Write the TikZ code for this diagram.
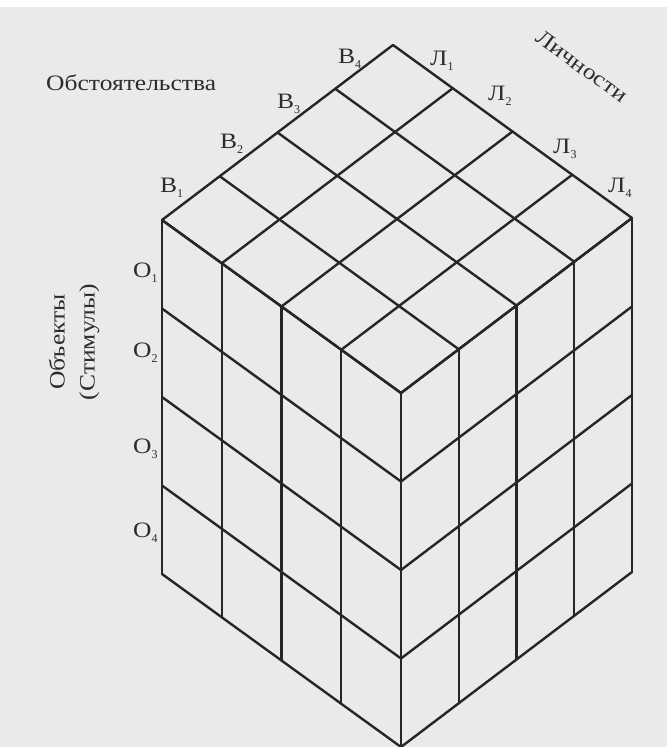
\documentclass[tikz,border=0pt]{standalone}
\usepackage{graphicx}
\usepackage{fontspec}
\setmainfont{Liberation Serif}
\usetikzlibrary{calc}
\definecolor{paper}{HTML}{EAEAE8}
\definecolor{ink}{HTML}{262626}
\definecolor{lbl}{HTML}{2C2C2C}
\tikzset{
  % cube grid lines
  grid/.style={draw=ink, line width=2.4pt, line cap=round, line join=round},
  % small axis labels, placed by the left end of their baseline
  lab/.style={text=lbl, inner sep=0pt, anchor=base west,
    font=\fontsize{22}{22}\selectfont},
  % axis titles
  axis/.style={text=lbl, inner sep=0pt, align=center,
    font=\fontsize{22}{30}\selectfont},
}
\newcommand{\wide}[1]{\scalebox{1.16}[1]{#1}}
\newcommand{\idx}[2]{\wide{#1}\raisebox{-5pt}{\fontsize{12}{12}\selectfont #2}}

\begin{document}
\begin{tikzpicture}[x=1pt, y=-1pt]

% =====================================================================
% PAPER
% =====================================================================
\fill[paper] (0,0) rectangle (667,747);
\fill[white] (0,0) rectangle (667,7);
\useasboundingbox (0,0) rectangle (667,747);

% =====================================================================
% CUBE  (front top corner F, edge vectors a = left, b = right, h = down)
% =====================================================================
\coordinate (F) at (401,393);
\coordinate (a) at (-239,-173);
\coordinate (b) at (231,-175);
\coordinate (h) at (0,354);

\foreach \k in {0,...,4} {
  % top face
  \draw[grid] ($(F)+\k/4*(b)$) -- ($(F)+\k/4*(b)+(a)$);
  \draw[grid] ($(F)+\k/4*(a)$) -- ($(F)+\k/4*(a)+(b)$);
  % left face
  \draw[grid] ($(F)+\k/4*(a)$) -- ($(F)+\k/4*(a)+(h)$);
  \draw[grid] ($(F)+\k/4*(h)$) -- ($(F)+\k/4*(h)+(a)$);
  % right face
  \draw[grid] ($(F)+\k/4*(b)$) -- ($(F)+\k/4*(b)+(h)$);
  \draw[grid] ($(F)+\k/4*(h)$) -- ($(F)+\k/4*(h)+(b)$);
}

% =====================================================================
% LABELS
% =====================================================================
\foreach \i/\x/\y in {1/160/192, 2/220/148, 3/277/108, 4/338/63}
  \node[lab] (v\i) at (\x,\y) {\idx{В}{\i}};

\foreach \i/\x/\y in {1/430/65, 2/488/100, 3/553/153, 4/608/192}
  \node[lab] (l\i) at (\x,\y) {\idx{Л}{\i}};

\foreach \i/\y in {1/277, 2/357, 3/453, 4/537}
  \node[lab] (o\i) at (133,\y) {\idx{О}{\i}};

\node[lab] (circ) at (46,90) {\wide{Обстоятельства}};
\node[axis, rotate=-36] (pers) at (582,66) {\wide{Личности}};
\node[axis, rotate=90] (objs) at (74,342) {\wide{Объекты}\\\wide{(Стимулы)}};

\end{tikzpicture}
\end{document}
